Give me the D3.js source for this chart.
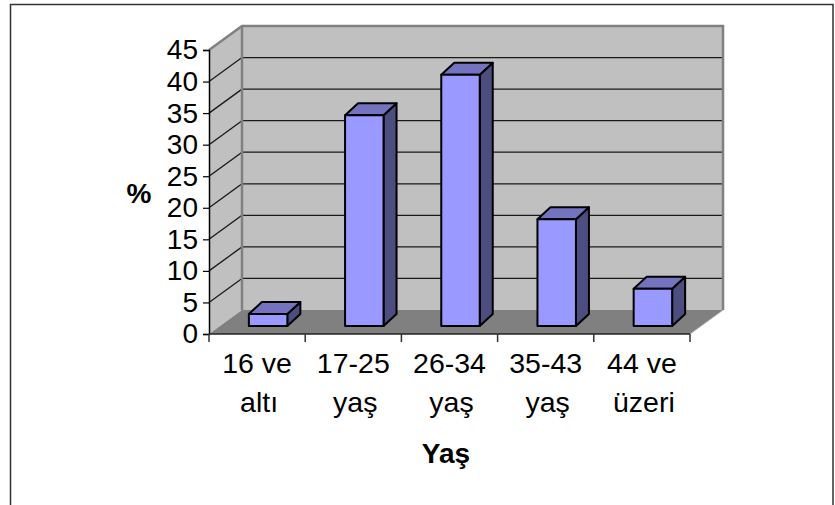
<!DOCTYPE html>
<html>
<head>
<meta charset="utf-8">
<script src="https://cdn.jsdelivr.net/npm/d3@7"></script>
<style>
  body { margin: 0; background: #fff; }
  svg text { font-family: "Liberation Sans", Arial, sans-serif; }
</style>
</head>
<body>
<div id="chart"></div>
<script>
// data
var categories = [["16 ve", "altı"], ["17-25", "yaş"], ["26-34", "yaş"], ["35-43", "yaş"], ["44 ve", "üzeri"]];
var values = [1.9, 33.4, 39.8, 16.9, 5.9];
var yTicks = [0, 5, 10, 15, 20, 25, 30, 35, 40, 45];
var yTitle = "%";
var xTitle = "Yaş";

var W = 835, H = 505;
var left = 209, right = 690, top0 = 50, bottom = 334;
// 3d depth of the walls
var dX = 33, dY = -24;
// bars sit a bit into the depth
var bOffX = 11, bOffY = -8, bDepX = 13, bDepY = -12;
var fs = 28;

var svg = d3.select("#chart").append("svg")
    .attr("width", W)
    .attr("height", H);

// outer frame, bottom edge below the window
svg.append("rect")
    .attr("x", 10.5).attr("y", 4.5)
    .attr("width", 822.5).attr("height", 520)
    .attr("fill", "#fff")
    .attr("stroke", "#333")
    .attr("stroke-width", 1.5);

var y = d3.scaleLinear().domain([0, 45]).range([bottom, top0]);
var x = d3.scaleBand().domain(d3.range(categories.length)).range([left, right]);
var bw = x.bandwidth() * 0.4;

function pts(a) { return a.map(function (p) { return p.join(","); }).join(" "); }

// walls and floor
svg.append("polygon")
    .attr("points", pts([[left + dX, top0 + dY], [right + dX, top0 + dY], [right + dX, bottom + dY], [left + dX, bottom + dY]]))
    .attr("fill", "#c0c0c0");
svg.append("polygon")
    .attr("points", pts([[left, top0], [left + dX, top0 + dY], [left + dX, bottom + dY], [left, bottom]]))
    .attr("fill", "#c0c0c0");
svg.append("polygon")
    .attr("points", pts([[left, bottom], [left + dX, bottom + dY], [right + dX, bottom + dY], [right, bottom]]))
    .attr("fill", "#808080");

// gridlines
var gridV = yTicks.filter(function (v) { return v > 0 && v < 45; });
svg.selectAll(".gridBack").data(gridV).enter().append("line")
    .attr("x1", left + dX).attr("x2", right + dX)
    .attr("y1", function (d) { return y(d) + dY; })
    .attr("y2", function (d) { return y(d) + dY; })
    .attr("stroke", "#1a1a1a").attr("stroke-width", 1.3);
svg.selectAll(".gridSide").data(gridV).enter().append("line")
    .attr("x1", left).attr("x2", left + dX)
    .attr("y1", function (d) { return y(d); })
    .attr("y2", function (d) { return y(d) + dY; })
    .attr("stroke", "#1a1a1a").attr("stroke-width", 1.3);

// wall edges
svg.append("polyline")
    .attr("points", pts([[left, top0], [left + dX, top0 + dY], [right + dX, top0 + dY], [right + dX, bottom + dY]]))
    .attr("fill", "none").attr("stroke", "#808080").attr("stroke-width", 2.5);
svg.append("line")
    .attr("x1", left + dX).attr("x2", left + dX)
    .attr("y1", top0 + dY).attr("y2", bottom + dY)
    .attr("stroke", "#808080").attr("stroke-width", 2.5);
svg.append("line")
    .attr("x1", right).attr("y1", bottom)
    .attr("x2", right + dX).attr("y2", bottom + dY)
    .attr("stroke", "#a8a8a8").attr("stroke-width", 1);

// bars: side, top, front
var bars = svg.selectAll(".bar").data(values).enter().append("g").attr("class", "bar");
function bx(i) { return x(i) + x.bandwidth() / 2 - bw / 2 + bOffX; }
function by(v) { return y(v) + bOffY; }
var yb = y(0) + bOffY;

bars.append("polygon")
    .attr("points", function (d, i) {
        var xr = bx(i) + bw;
        return pts([[xr, by(d)], [xr + bDepX, by(d) + bDepY], [xr + bDepX, yb + bDepY], [xr, yb]]);
    })
    .attr("fill", "#4d4d80").attr("stroke", "#000").attr("stroke-width", 2).attr("stroke-linejoin", "round");
bars.append("polygon")
    .attr("points", function (d, i) {
        var xl = bx(i), xr = xl + bw;
        return pts([[xl, by(d)], [xl + bDepX, by(d) + bDepY], [xr + bDepX, by(d) + bDepY], [xr, by(d)]]);
    })
    .attr("fill", "#7373c0").attr("stroke", "#000").attr("stroke-width", 2).attr("stroke-linejoin", "round");
bars.append("rect")
    .attr("x", function (d, i) { return bx(i); })
    .attr("y", function (d) { return by(d); })
    .attr("width", bw)
    .attr("height", function (d) { return yb - by(d); })
    .attr("fill", "#9999ff").attr("stroke", "#000").attr("stroke-width", 2).attr("stroke-linejoin", "round");

// y axis
var yAxis = svg.append("g")
    .attr("transform", "translate(" + left + ",0)")
    .call(d3.axisLeft(y).tickValues(yTicks).tickSize(6).tickPadding(5));
yAxis.attr("font-family", null);
yAxis.select(".domain").attr("stroke", "#000").attr("stroke-width", 1.5);
yAxis.selectAll(".tick line").attr("stroke", "#000").attr("stroke-width", 1.2);
yAxis.selectAll(".tick text").style("font-size", fs + "px").attr("fill", "#000");

// x axis, ticks on category edges
var xEdges = d3.range(categories.length + 1).map(function (i) { return left + i * x.step(); });
svg.append("line")
    .attr("x1", left).attr("x2", right)
    .attr("y1", bottom).attr("y2", bottom)
    .attr("stroke", "#222").attr("stroke-width", 1.5);
svg.selectAll(".xtick").data(xEdges).enter().append("line")
    .attr("x1", function (d) { return d; }).attr("x2", function (d) { return d; })
    .attr("y1", bottom).attr("y2", bottom + 8)
    .attr("stroke", "#333").attr("stroke-width", 1.5);

// category labels
var lab = svg.selectAll(".xlab").data(categories).enter().append("text")
    .attr("text-anchor", "middle")
    .style("font-size", "28.5px")
    .attr("fill", "#000");
lab.append("tspan")
    .attr("x", function (d, i) { return x(i) + x.bandwidth() / 2; })
    .attr("y", 373)
    .text(function (d) { return d[0]; });
lab.append("tspan")
    .attr("x", function (d, i) { return x(i) + x.bandwidth() / 2 + 2; })
    .attr("y", 412)
    .text(function (d) { return d[1]; });

// axis titles
svg.append("text")
    .attr("x", 446).attr("y", 463)
    .attr("text-anchor", "middle")
    .style("font-size", fs + "px").attr("font-weight", "bold")
    .text(xTitle);
svg.append("text")
    .attr("x", 139).attr("y", 203)
    .attr("text-anchor", "middle")
    .style("font-size", fs + "px").attr("font-weight", "bold")
    .text(yTitle);
</script>
</body>
</html>
